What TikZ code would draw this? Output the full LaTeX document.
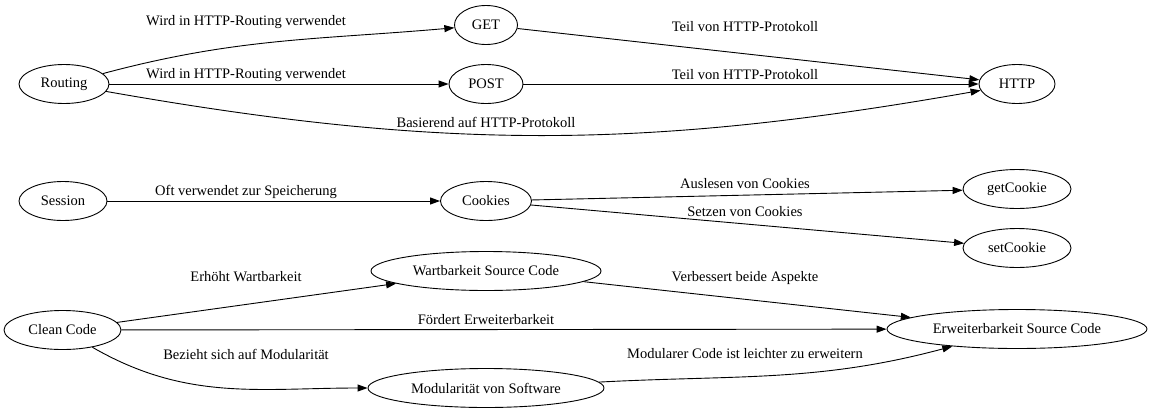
\documentclass[tikz,border=0pt]{standalone}
\usepackage{fontspec}
\setmainfont{Liberation Serif}
\usepackage{tikz}
\usetikzlibrary{shapes.geometric}
\usetikzlibrary{arrows.meta}

\begin{document}
\begin{tikzpicture}[x=1pt,y=-1pt,
  every node/.style={font=\fontsize{14.5}{17}\selectfont},
  concept/.style={ellipse,draw,line width=0.9pt,inner sep=0pt,minimum height=39pt},
  link/.style={->,line width=0.9pt},
  >={Triangle[length=10pt,width=7pt]}]

\useasboundingbox (0,0) rectangle (1152,413);

% HTTP
\node[concept,minimum width=90pt] (routing) at (64,84) {Routing};
\node[concept,minimum width=63pt] (get) at (486,25) {GET};
\node[concept,minimum width=74pt] (post) at (486,84) {POST};
\node[concept,minimum width=76pt] (http) at (1017,84) {HTTP};

\draw[link] (routing) to[out=15,in=185] (get);
\draw[link] (routing) -- (post);
\draw[link] (routing) to[out=-10,in=190] (http);
\draw[link] (get) -- (http);
\draw[link] (post) -- (http);

\node (lblroutingget) at (246,22) {Wird in HTTP-Routing verwendet};
\node (lblroutingpost) at (246,75) {Wird in HTTP-Routing verwendet};
\node (lblroutinghttp) at (486,122) {Basierend auf HTTP-Protokoll};
\node (lblgethttp) at (745,27) {Teil von HTTP-Protokoll};
\node (lblposthttp) at (745,75) {Teil von HTTP-Protokoll};

% Cookies
\node[concept,minimum width=88pt] (session) at (63,201) {Session};
\node[concept,minimum width=91pt] (cookies) at (486,201) {Cookies};
\node[concept,minimum width=108pt] (getcookie) at (1017,189) {getCookie};
\node[concept,minimum width=108pt] (setcookie) at (1017,248) {setCookie};

\draw[link] (session) -- (cookies);
\draw[link] (cookies) -- (getcookie);
\draw[link] (cookies) -- (setcookie);

\node (lblsession) at (246,192) {Oft verwendet zur Speicherung};
\node (lblgetcookie) at (745,184) {Auslesen von Cookies};
\node (lblsetcookie) at (745,212) {Setzen von Cookies};

% Clean Code
\node[concept,minimum width=117pt] (cleancode) at (62.5,330) {Clean Code};
\node[concept,minimum width=230pt] (wartbarkeit) at (486,271) {Wartbarkeit Source Code};
\node[concept,minimum width=236pt] (modularitaet) at (486,388) {Modularität von Software};
\node[concept,minimum width=260pt] (erweiterbarkeit) at (1017,329) {Erweiterbarkeit Source Code};

\draw[link] (cleancode) -- (wartbarkeit);
\draw[link] (cleancode) -- (erweiterbarkeit);
\draw[link] (cleancode) to[out=-30,in=180] (modularitaet);
\draw[link] (wartbarkeit) -- (erweiterbarkeit);
\draw[link] (modularitaet) to[out=3,in=195] (erweiterbarkeit);

\node (lblwartbarkeit) at (246,277) {Erhöht Wartbarkeit};
\node (lblerweiterbarkeit) at (486,320) {Fördert Erweiterbarkeit};
\node (lblmodularitaet) at (246,354) {Bezieht sich auf Modularität};
\node (lblbeide) at (745,278) {Verbessert beide Aspekte};
\node (lblmodular) at (745,354) {Modularer Code ist leichter zu erweitern};

\end{tikzpicture}
\end{document}
